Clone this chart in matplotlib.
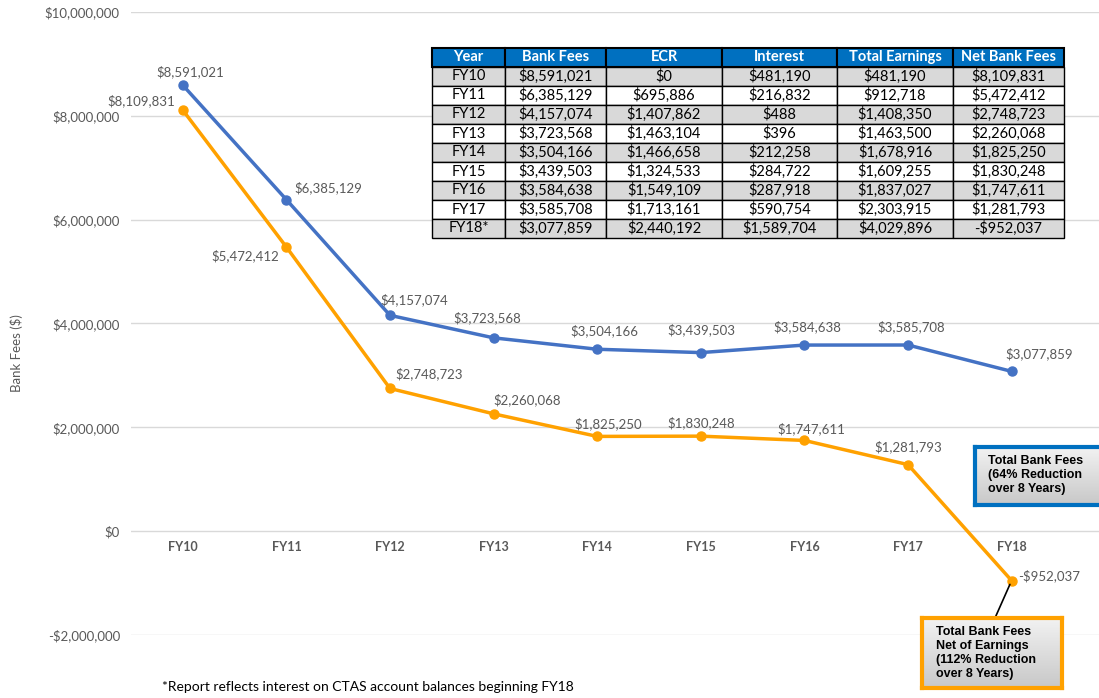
import matplotlib.pyplot as plt
import numpy as np

# -- data --
years = ["FY10", "FY11", "FY12", "FY13", "FY14", "FY15", "FY16", "FY17", "FY18"]
bank_fees = [8591021, 6385129, 4157074, 3723568, 3504166, 3439503, 3584638, 3585708, 3077859]
ecr = [0, 695886, 1407862, 1463104, 1466658, 1324533, 1549109, 1713161, 2440192]
interest = [481190, 216832, 488, 396, 212258, 284722, 287918, 590754, 1589704]
total_earnings = [481190, 912718, 1408350, 1463500, 1678916, 1609255, 1837027, 2303915, 4029896]
net_bank_fees = [8109831, 5472412, 2748723, 2260068, 1825250, 1830248, 1747611, 1281793, -952037]
table_years = ["FY10", "FY11", "FY12", "FY13", "FY14", "FY15", "FY16", "FY17", "FY18*"]
table_cols = ["Year", "Bank Fees", "ECR", "Interest", "Total Earnings", "Net Bank Fees"]


def money(v):
    return f"-${abs(v):,.0f}" if v < 0 else f"${v:,.0f}"


BLUE = "#4472C4"
ORANGE = "#FFA100"
GRAY = "#595959"
FONT = "Lato"

W, H = 1099, 698
fig = plt.figure(figsize=(W / 100, H / 100), dpi=100)

ax = fig.add_axes([131 / W, 1 - 635 / H, 968 / W, 623 / H])
x = np.arange(len(years))
ax.plot(x, bank_fees, color=BLUE, lw=2.5, marker="o", ms=6.5, zorder=3)
ax.plot(x, net_bank_fees, color=ORANGE, lw=2.5, marker="o", ms=6.5, zorder=3)
ax.set_xlim(-0.5, -0.5 + 968 / 103.6)
ax.set_ylim(-2e6, 1e7)
ax.set_yticks(np.arange(-2e6, 1.01e7, 2e6))
ax.set_yticklabels([money(v) for v in np.arange(-2e6, 1.01e7, 2e6)],
                   fontsize=9.5, color=GRAY, family=FONT)
ax.tick_params(axis="y", length=0, pad=8)
ax.set_xticks([])
ax.grid(axis="y", color="#D9D9D9", lw=1)
ax.set_axisbelow(True)
for s in ax.spines.values():
    s.set_visible(False)
fig.text(17 / W, 1 - 353 / H, "Bank Fees ($)", rotation=90, ha="center", va="center",
         fontsize=9.5, color=GRAY, family=FONT)

# category labels sit just under the zero line
for i, yr in enumerate(years):
    ax.annotate(yr, (i, 0), xytext=(0, -16), textcoords="offset pixels",
                ha="center", va="center", fontsize=9, fontweight="bold",
                color=GRAY, family=FONT)

# data labels
blue_off = [(7, 13), (42, 12), (24, 16), (-6, 20), (7, 19), (1, 23), (3, 18), (3, 18), (28, 18)]
orange_off = [(-42, 9), (-41, -9), (39, 15), (34, 14), (11, 13), (0, 13), (7, 12), (0, 18), (37, 5)]
for i in range(len(years)):
    ax.annotate(money(bank_fees[i]), (i, bank_fees[i]), xytext=blue_off[i],
                textcoords="offset pixels", ha="center", va="center",
                fontsize=9.5, color=GRAY, family=FONT)
    ax.annotate(money(net_bank_fees[i]), (i, net_bank_fees[i]), xytext=orange_off[i],
                textcoords="offset pixels", ha="center", va="center",
                fontsize=9.5, color=GRAY, family=FONT)

# connector from FY18 net point to the callout box
ax.annotate("", (8, net_bank_fees[-1]), xytext=(995, H - 618), textcoords="figure pixels",
            arrowprops=dict(arrowstyle="-", color="black", lw=1.2, shrinkA=0, shrinkB=3))

# table
tax = fig.add_axes([432 / W, 1 - 238 / H, 632 / W, 190 / H])
tax.axis("off")
cells = [[table_years[i], money(bank_fees[i]), money(ecr[i]), money(interest[i]),
          money(total_earnings[i]), money(net_bank_fees[i])] for i in range(len(years))]
widths = np.array([73, 101, 116, 115, 116, 111]) / 632
tbl = tax.table(cellText=cells, colLabels=table_cols, colWidths=widths,
                bbox=[0, 0, 1, 1], cellLoc="center")
tbl.auto_set_font_size(False)
for (r, c), cell in tbl.get_celld().items():
    cell.set_edgecolor("black")
    cell.set_linewidth(1)
    cell.get_text().set_family(FONT)
    cell.get_text().set_fontsize(10.5)
    if r == 0:
        cell.set_facecolor("#0070C0")
        cell.get_text().set_color("white")
        cell.get_text().set_fontweight("bold")
        cell.get_text().set_fontsize(10.5)
        cell.set_linewidth(1.5)
    else:
        cell.set_facecolor("#D9D9D9" if r % 2 == 1 else "white")
        cell.get_text().set_color("black")


def callout(rect, edge, text, text_y):
    bx = fig.add_axes([rect[0] / W, 1 - (rect[1] + rect[3]) / H, rect[2] / W, rect[3] / H])
    grad = np.linspace(0, 1, 100).reshape(-1, 1)
    bx.imshow(grad, cmap=plt.matplotlib.colors.LinearSegmentedColormap.from_list(
        "g", ["#F2F2F2", "#C8C8C8"]), aspect="auto", extent=[0, 1, 0, 1])
    bx.set_xticks([])
    bx.set_yticks([])
    for s in bx.spines.values():
        s.set_color(edge)
        s.set_linewidth(3)
    bx.text(0.1, text_y, text, transform=bx.transAxes, ha="left", va="center",
            fontsize=9, fontweight="bold", family="Liberation Sans", linespacing=1.2)


callout((975, 447, 130, 58), "#0070C0", "Total Bank Fees\n(64% Reduction\nover 8 Years)", 0.52)
callout((922, 618, 140, 70), ORANGE,
        "Total Bank Fees\nNet of Earnings\n(112% Reduction\nover 8 Years)", 0.5)

fig.text(162 / W, 1 - 687 / H, "*Report reflects interest on CTAS account balances beginning FY18",
         fontsize=10, color="black", family=FONT, va="center")

fig.savefig("out.png", dpi=100)
